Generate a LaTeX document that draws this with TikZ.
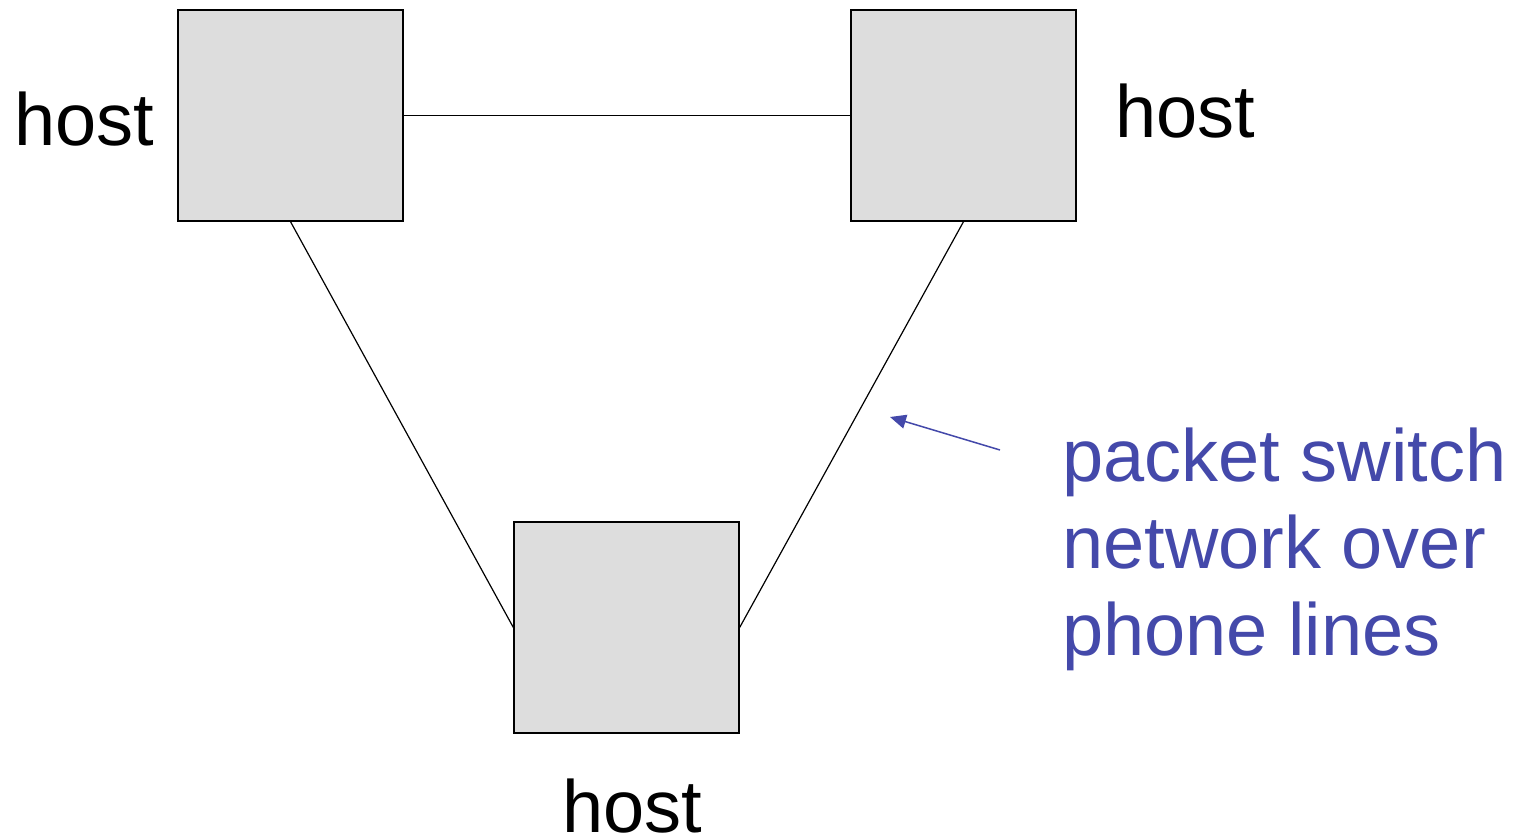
\documentclass[tikz,border=0pt]{standalone}
\usepackage{fontspec}
\setmainfont{Liberation Sans}
\usetikzlibrary{arrows.meta}
\definecolor{note}{RGB}{68,73,170}
\definecolor{boxfill}{RGB}{221,221,221}
\begin{document}
\begin{tikzpicture}[x=1pt,y=-1pt,
  hostbox/.style={draw=black, line width=1.3pt, fill=boxfill, minimum width=225pt, minimum height=211pt, inner sep=0pt},
  link/.style={draw=black, line width=1.2pt},
  label/.style={font=\fontsize{74}{87}\selectfont, inner sep=0pt, text depth=0pt, anchor=base west},
  notetext/.style={font=\fontsize{74}{87}\selectfont, text=note, inner sep=0pt, align=left, anchor=base west},
  notearrow/.style={draw=note, line width=1.5pt, -{Triangle[length=16pt,width=14pt]}}]
\useasboundingbox (0,0) rectangle (1520,839);

% three host boxes
\node[hostbox] (h1) at (290.5,115.5) {};
\node[hostbox] (h2) at (963.5,115.5) {};
\node[hostbox] (h3) at (626.5,627.5) {};

% links between the hosts
\draw[link] (h1.east) -- (h2.west);
\draw[link] (h1.south) -- (h3.west);
\draw[link] (h2.south) -- (h3.east);

% host labels
\node[label] (l1) at (14,145) {host};
\node[label] (l2) at (1115,137) {host};
\node[label] (l3) at (562,832) {host};

% annotation (anchored at the baseline of its last line)
\node[notetext] (note) at (1062,655) {packet switch\\network over\\phone lines};
\coordinate (tail) at (1000,450);
\coordinate (tip) at (890,417);
\draw[notearrow] (tail) -- (tip);
\end{tikzpicture}
\end{document}
